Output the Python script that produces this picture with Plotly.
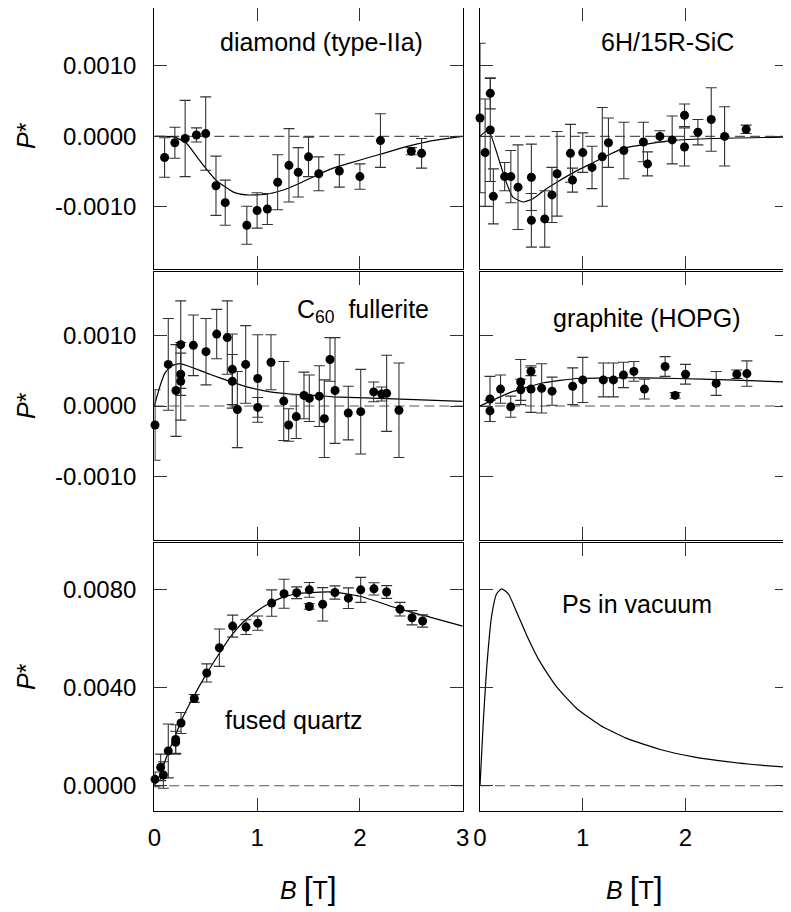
import plotly.graph_objects as go
from plotly.subplots import make_subplots

# ---- diamond (type-IIa)
dia_B = [0.10, 0.20, 0.30, 0.41, 0.50, 0.60, 0.69, 0.90, 1.00, 1.10, 1.20, 1.31, 1.40, 1.50, 1.60, 1.80, 2.00, 2.20, 2.50, 2.60]
dia_P = [-0.00030, -0.00009, -0.00003, 0.00002, 0.00004, -0.00070, -0.00094, -0.00126, -0.00105, -0.00103,
         -0.00065, -0.00041, -0.00051, -0.00029, -0.00053, -0.00049, -0.00057, -0.00006, -0.00021, -0.00024]
dia_err = [0.00028, 0.00022, 0.00054, 0.00010, 0.00052, 0.00042, 0.00032, 0.00027, 0.00025, 0.00022,
           0.00039, 0.00052, 0.00035, 0.00028, 0.00024, 0.00023, 0.00018, 0.00038, 0.00005, 0.00021]
dia_fit_B = [0, 0.1, 0.2, 0.315, 0.44, 0.60, 0.77, 0.90, 1.09, 1.255, 1.42, 1.58, 1.74, 1.90, 2.06, 2.23, 2.39, 2.55, 2.71, 3.0]
dia_fit_P = [0, 0, -0.00001, -0.0001, -0.00034, -0.00062, -0.00079, -0.00083, -0.00082, -0.00076, -0.00066,
             -0.00055, -0.00045, -0.00038, -0.00031, -0.00024, -0.00017, -0.00011, -0.00006, 0]

# ---- 6H/15R-SiC
sic_B = [0.0, 0.05, 0.10, 0.10, 0.13, 0.24, 0.30, 0.37, 0.50, 0.50, 0.63, 0.70, 0.75, 0.88, 0.90,
         1.00, 1.09, 1.19, 1.25, 1.40, 1.59, 1.63, 1.75, 1.87, 1.99, 1.99, 2.12, 2.25, 2.38, 2.59]
sic_P = [0.00026, -0.00023, 0.00061, 0.00009, -0.00085, -0.00057, -0.00057, -0.00072, -0.00058, -0.00119,
         -0.00117, -0.00083, -0.00053, -0.00024, -0.00062, -0.00023, -0.00044, -0.00029, -0.00009, -0.00020,
         -0.00008, -0.00039, 0.00000, -0.00005, 0.00030, -0.00015, 0.00006, 0.00024, 0.00000, 0.00010]
sic_err = [0.00106, 0.00076, 0.00022, 0.00073, 0.00039, 0.00020, 0.00037, 0.00060, 0.00047, 0.00038,
           0.00040, 0.00039, 0.00060, 0.00041, 0.00017, 0.00028, 0.00030, 0.00070, 0.00035, 0.00040,
           0.00028, 0.00017, 0.00008, 0.00034, 0.00016, 0.00027, 0.00018, 0.00045, 0.00042, 0.00006]
sic_fit_B = [0, 0.08, 0.195, 0.26, 0.32, 0.42, 0.52, 0.63, 0.76, 0.925, 1.09, 1.24, 1.395, 1.62, 1.87, 2.26, 3.0]
sic_fit_P = [0, 0.00009, -0.00038, -0.00067, -0.00086, -0.00093, -0.00088, -0.00076, -0.00064, -0.0005,
             -0.00038, -0.00027, -0.00017, -0.00011, -0.00006, -0.00003, -0.00001]

# ---- C60 fullerite
c60_B = [0.007, 0.136, 0.211, 0.257, 0.257, 0.257, 0.38, 0.503, 0.607, 0.71, 0.759, 0.759, 0.808, 0.889, 1.006, 1.006,
         1.135, 1.259, 1.307, 1.381, 1.456, 1.508, 1.605, 1.654, 1.709, 1.758, 1.887, 2.008, 2.134, 2.212, 2.26, 2.38]
c60_P = [-0.00027, 0.00059, 0.00022, 0.00087, 0.00045, 0.00035, 0.00086, 0.00077, 0.00102, 0.00097, 0.00052, 0.00035,
         -0.00005, 0.00059, 0.00039, -0.00002, 0.00062, 0.00007, -0.00027, -0.00015, 0.00015, 0.00011, 0.00014,
         -0.00018, 0.00066, 0.00022, -0.00010, -0.00008, 0.00020, 0.00017, 0.00018, -0.00006]
c60_err = [0.0005, 0.00065, 0.00065, 0.00062, 0.0003, 0.00055, 0.00043, 0.00047, 0.00035, 0.00052, 0.0005, 0.00038,
           0.00054, 0.00055, 0.00062, 0.00014, 0.00039, 0.00056, 0.00023, 0.00031, 0.00033, 0.00033, 0.00043,
           0.00055, 0.00031, 0.00075, 0.00038, 0.0006, 0.00014, 0.0001, 0.00054, 0.00067]
c60_fit_B = [0, 0.055, 0.104, 0.169, 0.25, 0.38, 0.54, 0.736, 0.93, 1.125, 1.32, 1.58, 1.74, 2.33, 3.0]
c60_fit_P = [0, 0.00028, 0.00047, 0.00057, 0.0006, 0.00054, 0.00045, 0.00035, 0.00026, 0.0002, 0.00017,
             0.00015, 0.00013, 0.0001, 0.000065]

# ---- graphite (HOPG)
gr_B = [0.097, 0.097, 0.2, 0.299, 0.396, 0.396, 0.496, 0.496, 0.6, 0.701, 0.902, 1.0, 1.2, 1.298, 1.396,
        1.497, 1.6, 1.801, 1.899, 2.0, 2.298, 2.499, 2.597]
gr_P = [0.0001, -0.00007, 0.00024, -0.00001, 0.00034, 0.00023, 0.00049, 0.00024, 0.00025, 0.00021, 0.00028,
        0.00037, 0.00037, 0.00037, 0.00044, 0.00049, 0.00024, 0.00056, 0.00015, 0.00045, 0.00032, 0.00045, 0.00046]
gr_err = [0.00032, 0.00015, 0.0002, 0.00015, 0.00032, 0.00015, 0.00006, 0.00033, 0.00035, 0.0002, 0.00026,
          0.00032, 0.00024, 0.00024, 0.00018, 0.00014, 0.00014, 0.00014, 0.00004, 0.00014, 0.00017, 0.00006, 0.00018]
gr_fit_B = [0, 0.097, 0.29, 0.62, 0.94, 1.27, 1.59, 1.915, 2.4, 3.0]
gr_fit_P = [0, 0.000065, 0.00019, 0.00033, 0.00039, 0.0004, 0.0004, 0.00039, 0.00037, 0.00034]

# ---- fused quartz
qz_B = [0.007, 0.062, 0.088, 0.136, 0.208, 0.208, 0.26, 0.389, 0.51, 0.633, 0.762, 0.892, 1.006, 1.142,
        1.262, 1.385, 1.508, 1.508, 1.638, 1.757, 1.888, 2.008, 2.137, 2.26, 2.39, 2.507, 2.61]
qz_P = [0.00026, 0.00075, 0.00044, 0.00142, 0.00177, 0.00189, 0.00256, 0.00356, 0.0046, 0.00563, 0.00651,
        0.00647, 0.00663, 0.00745, 0.00783, 0.00787, 0.00799, 0.00731, 0.0074, 0.00788, 0.00765, 0.00799,
        0.00803, 0.0079, 0.0072, 0.00685, 0.00672]
qz_err = [0.0003, 0.00054, 0.00054, 0.0011, 0.00045, 0.0006, 0.00043, 0.00016, 0.00037, 0.00076, 0.00045,
          0.0003, 0.00029, 0.00054, 0.00059, 0.00024, 0.0003, 0.00011, 0.00068, 0.00027, 0.00042, 0.00051,
          0.00025, 0.00026, 0.00028, 0.00029, 0.00025]
qz_fit_B = [0, 0.055, 0.12, 0.2, 0.28, 0.38, 0.49, 0.61, 0.74, 0.866, 0.996, 1.125, 1.255, 1.385, 1.515,
            1.74, 2.0, 2.39, 2.68, 3.0]
qz_fit_P = [0, 0.00044, 0.00118, 0.002, 0.00281, 0.00362, 0.00444, 0.00525, 0.00607, 0.00668, 0.00712,
            0.00745, 0.00769, 0.00783, 0.00788, 0.0079, 0.00773, 0.0072, 0.00688, 0.00651]

# ---- Ps in vacuum (curve only)
ps_B = [0, 0.032, 0.065, 0.114, 0.162, 0.211, 0.276, 0.357, 0.455, 0.584, 0.746, 0.941, 1.168, 1.428,
        1.752, 2.077, 2.402, 2.726, 3.0]
ps_P = [0, 0.0026, 0.0048, 0.00695, 0.00783, 0.00803, 0.00783, 0.00708, 0.00613, 0.00505, 0.00403,
        0.00315, 0.00247, 0.00193, 0.00148, 0.00118, 0.00098, 0.00084, 0.00075]

small_ticks = [-0.001, 0, 0.001]
small_labels = ["-0.0010", "0.0000", "0.0010"]
big_ticks = [0, 0.004, 0.008]
big_labels = ["0.0000", "0.0040", "0.0080"]
b_ticks = [0, 1, 2, 3]
b_labels = ["0", "1", "2", "3"]

# page body has an 8px margin, so work in window pixels and shift
OFF = 8
W, H = 791 - OFF, 912 - OFF
FONT = "Arial, Liberation Sans, sans-serif"


def fx(x):
    return (x - OFF) / W


def fy(y):
    return 1 - (y - OFF) / H


fig = make_subplots(rows=3, cols=2)

panels = [
    (1, 1, dia_B, dia_P, dia_err, dia_fit_B, dia_fit_P),
    (1, 2, sic_B, sic_P, sic_err, sic_fit_B, sic_fit_P),
    (2, 1, c60_B, c60_P, c60_err, c60_fit_B, c60_fit_P),
    (2, 2, gr_B, gr_P, gr_err, gr_fit_B, gr_fit_P),
    (3, 1, qz_B, qz_P, qz_err, qz_fit_B, qz_fit_P),
    (3, 2, None, None, None, ps_B, ps_P),
]

for r, c, bx, by, be, fb, fp in panels:
    fig.add_trace(go.Scatter(x=fb, y=fp, mode="lines", line=dict(color="black", width=1.2, shape="spline", smoothing=0.5),
                             showlegend=False, hoverinfo="skip"), row=r, col=c)
    if bx is not None:
        fig.add_trace(go.Scatter(x=bx, y=by, mode="markers", cliponaxis=False,
                                 marker=dict(color="black", size=9),
                                 error_y=dict(type="data", array=be, visible=True, color="#333333",
                                              thickness=1.1, width=5.5),
                                 showlegend=False), row=r, col=c)
    ref = "" if (r, c) == (1, 1) else str((r - 1) * 2 + c)
    fig.add_shape(type="line", xref="x%s domain" % ref, yref="y%s" % ref, x0=0, x1=1, y0=0, y1=0,
                  line=dict(color="#555555", width=1.1, dash="10px,5px"), layer="below")

# panel geometry (window pixels); top row starts at the page margin
col_dom = [(154.3, 462.7), (480.0, 788.3)]
row_dom = [(8, 269), (272, 540), (543, 811)]
row_range = [[-0.00188, 0.00182], [-0.0019, 0.0019], [-0.00103, 0.0099]]

for r in range(1, 4):
    for c in range(1, 3):
        x0, x1 = col_dom[c - 1]
        y0, y1 = row_dom[r - 1]
        fig.update_xaxes(row=r, col=c, domain=[fx(x0), fx(x1)], range=[0, 3], automargin=False,
                         tickvals=b_ticks, ticktext=b_labels, showticklabels=(r == 3),
                         ticks="inside", ticklen=13, tickwidth=1, tickcolor="#333333",
                         showline=True, linecolor="black", linewidth=1.2, mirror="allticks",
                         showgrid=False, zeroline=False, ticklabelstandoff=5,
                         tickfont=dict(family=FONT, size=24, color="black"))
        if r < 3:
            tv, tt = small_ticks, small_labels
        else:
            tv, tt = big_ticks, big_labels
        fig.update_yaxes(row=r, col=c, domain=[fy(y1), fy(y0)], range=row_range[r - 1], automargin=False,
                         tickvals=tv, ticktext=tt, showticklabels=(c == 1),
                         ticks="inside", ticklen=13, tickwidth=1, tickcolor="#333333",
                         showline=True, linecolor="black", linewidth=1.2, mirror="allticks",
                         showgrid=False, zeroline=False, ticklabelstandoff=12,
                         tickfont=dict(family=FONT, size=24, color="black"))

annots = [
    ("diamond (type-IIa)", 321, 42),
    ("6H/15R-SiC", 667, 42),
    ("C<sub>60</sub>\u00a0 fullerite", 363, 311),
    ("graphite (HOPG)", 647, 318),
    ("fused quartz", 294, 720),
    ("Ps in vacuum", 637, 604),
]
for txt, x, y in annots:
    fig.add_annotation(text=txt, x=fx(x), y=fy(y), xref="paper", yref="paper", showarrow=False,
                       xanchor="center", yanchor="middle", font=dict(family=FONT, size=25, color="black"))

for y in [136, 406, 677]:
    fig.add_annotation(text="<i>P</i>*", x=fx(26), y=fy(y), xref="paper", yref="paper", showarrow=False,
                       textangle=-90, xanchor="center", yanchor="middle",
                       font=dict(family=FONT, size=25, color="black"))

for x in [308, 634]:
    fig.add_annotation(text="<i>B</i> <span style='font-size:32px'>[</span>T<span style='font-size:32px'>]</span>",
                       x=fx(x), y=fy(888), xref="paper", yref="paper", showarrow=False,
                       xanchor="center", yanchor="middle", font=dict(family=FONT, size=25, color="black"))

fig.update_layout(width=W, height=H, margin=dict(l=0, r=0, t=0, b=0, autoexpand=False),
                  paper_bgcolor="white", plot_bgcolor="white", showlegend=False,
                  font=dict(family=FONT, color="black"))

fig.write_html("out.html")
